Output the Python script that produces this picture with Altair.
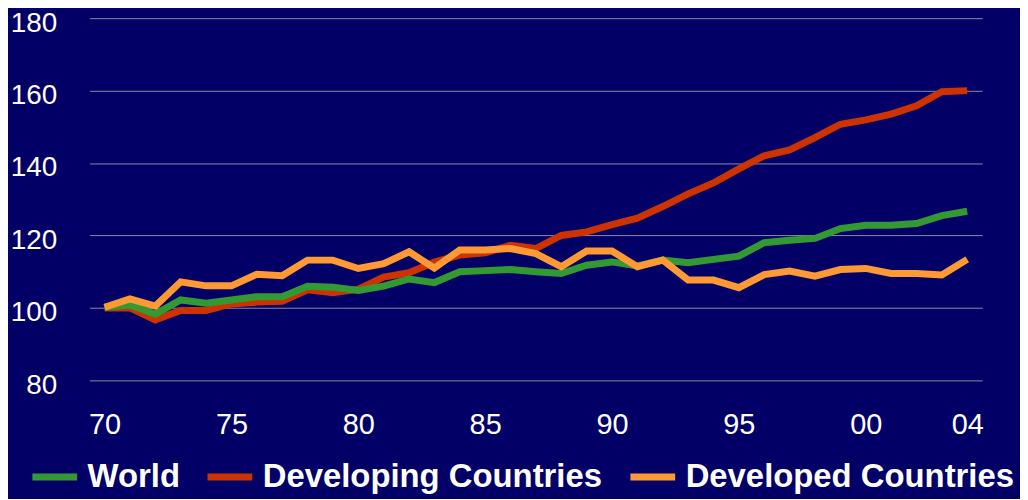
import altair as alt
import pandas as pd

years = list(range(1970, 2005))
world = [100.2, 100.8, 98.3, 102.2, 101.3, 102.2, 103.1, 103.1, 106.0, 105.7, 104.8,
         106.0, 108.0, 107.0, 110.0, 110.3, 110.6, 110.0, 109.5, 111.8, 112.7, 111.6,
         113.2, 112.5, 113.4, 114.3, 118.0, 118.7, 119.2, 121.9, 122.8, 122.8, 123.3, 125.5, 126.7]
developing = [100.0, 100.0, 96.7, 99.3, 99.3, 101.1, 101.6, 101.8, 105.0, 104.2, 105.2,
              108.5, 109.7, 112.7, 114.6, 115.2, 117.3, 116.4, 120.0, 121.0, 123.0, 124.8,
              128.0, 131.5, 134.5, 138.4, 142.0, 143.6, 147.0, 150.7, 151.9, 153.5, 155.8, 159.7, 160.0]
developed = [100.2, 102.5, 100.5, 107.2, 106.1, 106.1, 109.3, 108.9, 113.2, 113.2, 110.9,
             112.2, 115.5, 111.0, 116.0, 116.0, 116.4, 115.0, 111.4, 115.7, 115.7, 111.4,
             113.2, 107.7, 107.7, 105.6, 109.2, 110.2, 108.8, 110.6, 110.9, 109.5, 109.5, 109.1, 113.4]

series_names = ["World", "Developing Countries", "Developed Countries"]
series_colors = ["#339933", "#CC3300", "#FF9933"]
x_ticks = [1970, 1975, 1980, 1985, 1990, 1995, 2000, 2004]
y_ticks = [80, 100, 120, 140, 160, 180]

rows = []
for name, vals in zip(series_names, [world, developing, developed]):
    for yr, v in zip(years, vals):
        rows.append({"year": yr, "value": v, "series": name})
df = pd.DataFrame(rows)

base = alt.Chart(df).mark_line(strokeWidth=7).encode(
    x=alt.X("year:Q",
            scale=alt.Scale(domain=[1969.41, 2004.59], nice=False, zero=False),
            axis=alt.Axis(values=x_ticks, labelExpr="slice('' + datum.value, 2)",
                          grid=False, domain=False, ticks=False, title=None,
                          labelFontSize=29, labelColor="white", labelFont="Liberation Sans",
                          labelPadding=30, labelFlush=False)),
    y=alt.Y("value:Q",
            scale=alt.Scale(domain=[80, 180], nice=False, zero=False),
            axis=alt.Axis(values=y_ticks, grid=True, gridColor="#8a8aa0", gridWidth=1,
                          domain=False, ticks=False, title=None,
                          labelFontSize=28, labelColor="white", labelFont="Liberation Sans",
                          labelPadding=33, labelOffset=5)),
    color=alt.Color("series:N",
                    scale=alt.Scale(domain=series_names, range=series_colors),
                    legend=alt.Legend(title=None, orient="none", direction="horizontal",
                                      legendX=-61, legendY=435, symbolType="stroke",
                                      symbolSize=2025, symbolStrokeWidth=7,
                                      labelFontSize=33, labelFontWeight="bold",
                                      labelColor="white", labelFont="Liberation Sans",
                                      labelOffset=7, columnPadding=13, labelLimit=500,
                                      padding=0)),
)

layers = [base.transform_filter(alt.datum.series == n)
          for n in ["Developing Countries", "World", "Developed Countries"]]

chart = alt.layer(*layers).properties(
    width=897, height=364,
    background="#020066",
    padding={"left": 82, "top": 9, "right": 38, "bottom": 118},
    autosize=alt.AutoSizeParams(type="none"),
).configure_view(stroke=None, fill="#020066")

chart.save("out.html", embed_options={"renderer": "svg", "actions": False})
